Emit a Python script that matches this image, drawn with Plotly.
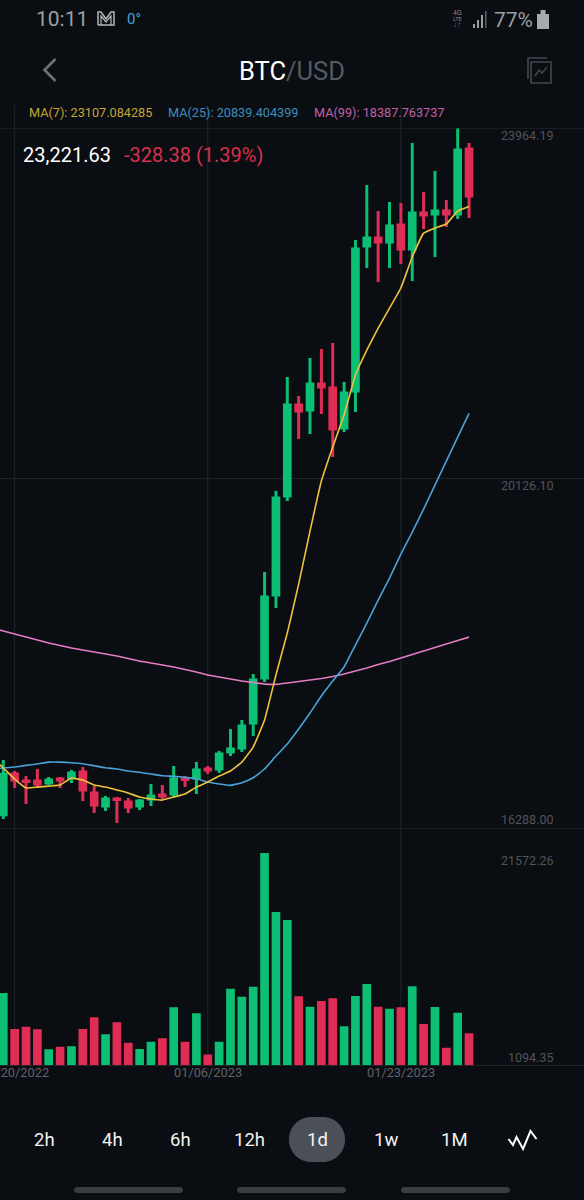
import pandas as pd
import plotly.graph_objects as go

# Daily BTC/USD candles, 12/19/2022 to 01/29/2023
dates = pd.date_range("2022-12-19", periods=42, freq="D")
ma_dates = pd.date_range("2022-12-18", periods=43, freq="D")

open_ = [16441, 16887, 16810, 16810, 16788, 16832, 16843, 16909, 16679, 16536, 16613, 16580, 16536, 16613,
         16657, 16668, 16832, 16843, 16942, 16942, 17128, 17172, 17446, 17939, 18849, 19934, 20931, 20876,
         21161, 21118, 20679, 21085, 22674, 22762, 22718, 22904, 22641, 23036, 23025, 23057, 23025, 23737]
high = [17040, 16920, 16865, 16942, 16854, 16854, 16931, 16964, 16755, 16646, 16635, 16624, 16613, 16777,
        16766, 16975, 16865, 17018, 16975, 17139, 17380, 17479, 17983, 19101, 19989, 21238, 21030, 21446,
        21545, 21611, 21183, 22740, 23342, 23057, 23156, 23145, 23803, 23266, 23496, 23178, 23964.19, 23803]
low = [16394, 16734, 16558, 16744, 16766, 16734, 16788, 16591, 16460, 16481, 16350, 16460, 16492, 16536,
       16613, 16635, 16744, 16668, 16887, 16898, 17084, 17128, 17303, 17895, 18706, 19879, 20559, 20613,
       20833, 20361, 20635, 20854, 22433, 22279, 22433, 22477, 22290, 22860, 22553, 22882, 22970, 22981]
close = [16884, 16821, 16805, 16777, 16821, 16821, 16898, 16712, 16547, 16613, 16607, 16525, 16591, 16646,
         16646, 16832, 16827, 16931, 16931, 17106, 17161, 17413, 17917, 18827, 19912, 20931, 20865, 21161,
         21128, 20668, 21063, 22641, 22762, 22718, 22893, 22641, 23036, 23014, 23057, 23025, 23726, 23221.63]
volume = [7346, 3688, 3922, 3658, 1626, 1890, 1930, 3688, 4877, 3150, 4369, 2296, 1656, 2398,
          2743, 5893, 2398, 5283, 1094.35, 2398, 7783, 6970, 7986, 21572.26, 15575, 14762, 7010, 5954,
          6533, 6807, 3962, 7041, 8260, 5954, 5751, 5893, 8026, 4196, 5923, 1788, 5344, 3251]

ma7 = [17073, 16953, 16832, 16734, 16744, 16755, 16766, 16843, 16821, 16766, 16744, 16712, 16679, 16635,
       16613, 16602, 16635, 16668, 16744, 16799, 16865, 16920, 17018, 17183, 17479, 17972, 18432, 18969,
       19550, 20098, 20471, 20822, 21260, 21534, 21775, 21994, 22214, 22553, 22816, 22871, 22915, 23057, 23107.084285]
ma25 = [16947, 16953, 16964, 16982, 16997, 17018, 17018, 17011, 17000, 16978, 16956, 16942, 16920, 16906,
        16887, 16868, 16862, 16851, 16835, 16799, 16777, 16763, 16792, 16846, 16942, 17084, 17216, 17380,
        17556, 17742, 17906, 18060, 18301, 18542, 18794, 19035, 19298, 19539, 19791, 20054, 20317, 20580, 20839.404399]
ma99 = [18487, 18454, 18421, 18388, 18356, 18323, 18295, 18268, 18246, 18224, 18202, 18180, 18153, 18125,
        18104, 18082, 18060, 18032, 18005, 17972, 17950, 17928, 17906, 17890, 17873, 17870, 17884, 17901,
        17917, 17934, 17956, 17983, 18016, 18049, 18087, 18120, 18158, 18197, 18235, 18273, 18312, 18350, 18387.763737]

price_ticks = [16288.00, 20126.10, 23964.19]
volume_ticks = [1094.35, 21572.26]
date_ticks = ["2022-12-20", "2023-01-06", "2023-01-23"]
date_labels = ["12/20/2022", "01/06/2023", "01/23/2023"]
intervals = ["2h", "4h", "6h", "12h", "1d", "1w", "1M"]

W, H = 584, 1200
BG = "#0a0d11"
GREEN = "#0cbf74"
RED = "#e02d55"
YELLOW = "#eec33c"
BLUE = "#4aa3d6"
PINK = "#e47cc4"
GRID = "#1f2228"
AXIS_TEXT = "#50545b"
FONT = "Roboto"


def px(x):
    return x / W


def py(y):
    return 1 - y / H


def path(points, closed=False):
    d = "M" + " L".join(f"{px(x):.5f},{py(y):.5f}" for x, y in points)
    return d + (" Z" if closed else "")


def icon(points, color, width=1.6, closed=False):
    return dict(type="path", xref="paper", yref="paper", path=path(points, closed),
                line=dict(color=color, width=width), layer="above")


def box(x0, y0, x1, y1, color):
    return dict(type="rect", xref="paper", yref="paper", x0=px(x0), x1=px(x1), y0=py(y1), y1=py(y0),
                fillcolor=color, line=dict(width=0), layer="above")


def rounded(x0, y0, x1, y1, r, color):
    # Rounded rectangle made of cubic corners
    a0, a1, b0, b1 = px(x0), px(x1), py(y1), py(y0)
    rx, ry = r / W, r / H
    kx, ky = rx * 0.45, ry * 0.45
    d = (f"M{a0 + rx:.5f},{b0:.5f} L{a1 - rx:.5f},{b0:.5f} "
         f"C{a1 - kx:.5f},{b0:.5f} {a1:.5f},{b0 + ky:.5f} {a1:.5f},{b0 + ry:.5f} "
         f"L{a1:.5f},{b1 - ry:.5f} "
         f"C{a1:.5f},{b1 - ky:.5f} {a1 - kx:.5f},{b1:.5f} {a1 - rx:.5f},{b1:.5f} "
         f"L{a0 + rx:.5f},{b1:.5f} "
         f"C{a0 + kx:.5f},{b1:.5f} {a0:.5f},{b1 - ky:.5f} {a0:.5f},{b1 - ry:.5f} "
         f"L{a0:.5f},{b0 + ry:.5f} "
         f"C{a0:.5f},{b0 + ky:.5f} {a0 + kx:.5f},{b0:.5f} {a0 + rx:.5f},{b0:.5f} Z")
    return dict(type="path", xref="paper", yref="paper", path=d, fillcolor=color,
                line=dict(width=0), layer="below")


def text(x, y, s, size, color, anchor="left", family=FONT):
    return dict(xref="paper", yref="paper", x=px(x), y=py(y), text=s, showarrow=False, xanchor=anchor,
                yanchor="middle", font=dict(family=family, size=size, color=color), borderpad=0, borderwidth=0)


fig = go.Figure()

fig.add_trace(go.Bar(
    x=dates, y=volume, yaxis="y2",
    marker=dict(color=[GREEN if c >= o else RED for o, c in zip(open_, close)], line=dict(width=0)),
    hoverinfo="skip", showlegend=False,
))
fig.add_trace(go.Candlestick(
    x=dates, open=open_, high=high, low=low, close=close, yaxis="y", whiskerwidth=0,
    increasing=dict(line=dict(color=GREEN, width=3), fillcolor=GREEN),
    decreasing=dict(line=dict(color=RED, width=3), fillcolor=RED),
    hoverinfo="skip", showlegend=False,
))
for series, color in [(ma99, PINK), (ma25, BLUE), (ma7, YELLOW)]:
    fig.add_trace(go.Scatter(x=ma_dates, y=series, yaxis="y", mode="lines",
                             line=dict(color=color, width=1.6, shape="spline", smoothing=0.3),
                             hoverinfo="skip", showlegend=False))

# Date separators run through both panes; price levels span the full width
shapes = [dict(type="line", xref="x", yref="paper", x0=d, x1=d, y0=py(1065.3), y1=py(105),
               line=dict(color=GRID, width=1.2), layer="below") for d in date_ticks]
shapes += [dict(type="line", xref="paper", yref="y", x0=0, x1=1, y0=p, y1=p,
                line=dict(color=GRID, width=1.2), layer="below") for p in price_ticks]

# Status bar glyphs
GREY = "#9b9fa4"
shapes += [
    icon([(98, 25), (98, 12), (101, 12), (106, 19), (111, 12), (114, 12), (114, 25), (98, 25)], "#b5b8bb", 1.5),
    icon([(101, 25), (101, 16), (106, 22), (111, 16), (111, 25)], "#b5b8bb", 1.2),
    box(473, 24, 475, 28, GREY), box(477, 20, 479, 28, GREY), box(481, 15, 483, 28, GREY),
    box(485, 11, 486.5, 28, "#5c6065"),
    box(537, 14, 549, 29, "#a6a9ad"), box(540.5, 10, 545.5, 14, "#a6a9ad"),
    # Back chevron and the layout-switch glyph in the header
    icon([(55.5, 59), (44.5, 70), (55.5, 81)], "#6d7177", 2.6),
    icon([(531, 62), (551, 62), (551, 83), (531, 83)], "#43474d", 1.6, closed=True),
    icon([(528, 79), (528, 58), (547, 58)], "#43474d", 1.6),
    icon([(535, 76), (539, 70), (542, 73), (547, 67)], "#43474d", 1.6),
    # Interval selector
    rounded(289, 1117, 345, 1162, 22, "#4a4f58"),
    icon([(508.5, 1139), (513, 1145), (516.5, 1137), (523, 1149), (530.5, 1131), (536.5, 1139)], "#ffffff", 2),
    # Navigation hints along the bottom edge
    rounded(74, 1187, 183, 1193, 3, "#3a3d42"),
    rounded(237, 1187, 346, 1193, 3, "#3a3d42"),
    rounded(401, 1187, 510, 1193, 3, "#3a3d42"),
]

annotations = [
    text(36, 19, "10:11", 21, GREY),
    text(127, 19, "0°", 15, "#3fa4da"),
    text(457, 13.5, "4G", 7, "#85898d", "center"),
    text(457, 19, "LTE", 5.5, "#85898d", "center"),
    text(457, 24.5, "↓↑", 8, "#6f7378", "center"),
    text(494, 20, "77%", 21, GREY),
    text(239, 71, "BTC<span style='color:#555a61'>/USD</span>", 25.5, "#ffffff"),
    text(29, 112.5, "MA(7): 23107.084285", 12.7, "#c5a536"),
    text(168, 112.5, "MA(25): 20839.404399", 12.7, "#3f8dbd"),
    text(314, 112.5, "MA(99): 18387.763737", 12.7, "#c160a6"),
    text(23, 155, "23,221.63", 20, "#ffffff"),
    text(124, 155, "-328.38 (1.39%)", 20, "#d8304f"),
]
for price, shift in zip(price_ticks, (9, -7, -7)):
    annotations.append(dict(xref="paper", yref="y", x=px(555), y=price, text=f"{price:.2f}", showarrow=False,
                            xanchor="right", yanchor="middle", yshift=shift,
                            font=dict(family=FONT, size=12.5, color=AXIS_TEXT)))
for vol, shift in zip(volume_ticks, (-3, -7)):
    annotations.append(dict(xref="paper", yref="y2", x=px(555), y=vol, text=f"{vol:.2f}", showarrow=False,
                            xanchor="right", yanchor="middle", yshift=shift,
                            font=dict(family=FONT, size=12.5, color=AXIS_TEXT)))
# Date labels as annotations so the first one may run off the left edge
for d, label in zip(date_ticks, date_labels):
    annotations.append(dict(xref="x", yref="paper", x=d, y=py(1072), text=label, showarrow=False,
                            xanchor="center", yanchor="middle",
                            font=dict(family=FONT, size=12.8, color="#5f636a")))
for label, cx in zip(intervals, (44.7, 112.5, 180.6, 249.5, 317.3, 386, 454)):
    annotations.append(text(cx, 1140, label, 18.5, "#f2f3f4", "center"))

fig.update_layout(
    width=W, height=H, margin=dict(l=0, r=0, t=0, b=0, pad=0),
    paper_bgcolor=BG, plot_bgcolor="rgba(0,0,0,0)",
    font=dict(family=FONT), hovermode=False, dragmode=False,
    bargap=0.235, boxgap=0.5, boxgroupgap=0,
    shapes=shapes, annotations=annotations,
    xaxis=dict(
        type="date", anchor="y2", domain=[0, 1],
        range=["2022-12-18 17:02", "2023-02-08 02:53"],
        showticklabels=False, ticks="", showgrid=False, zeroline=False, showline=False,
        rangeslider=dict(visible=False),
    ),
    yaxis=dict(
        domain=[py(828.7), py(128.3)], range=[price_ticks[0], price_ticks[2]],
        showticklabels=False, ticks="", showgrid=False, zeroline=False, showline=False,
    ),
    yaxis2=dict(
        domain=[py(1065.3), py(853)], range=[0, volume_ticks[1]],
        showticklabels=False, ticks="", showgrid=False,
        zeroline=True, zerolinecolor=GRID, zerolinewidth=1.2, showline=False,
    ),
)

fig.write_html("out.html")
